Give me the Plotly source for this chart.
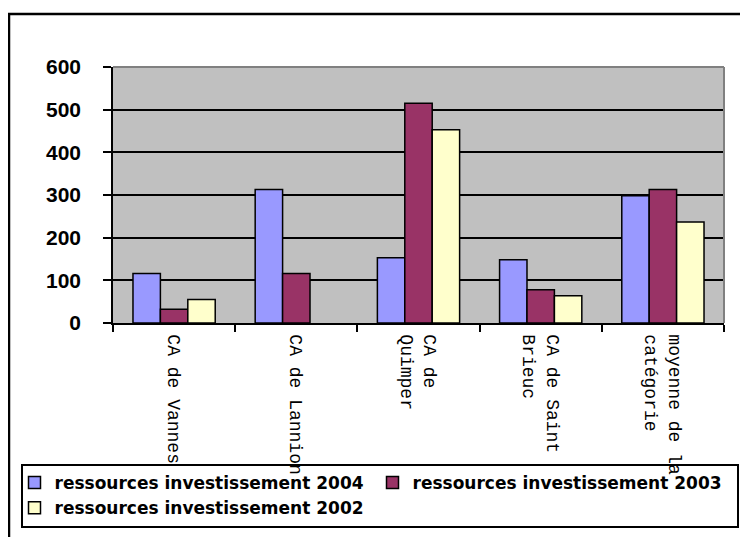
"""Excel-style grouped bar chart: ressources investissement 2002-2004."""

import plotly.graph_objects as go

# ---- data -------------------------------------------------------------
categories = [
    "CA de Vannes",
    "CA de Lannion",
    "CA de<br>Quimper",
    "CA de Saint<br>Brieuc",
    "moyenne de la<br>catégorie",
]
series_names = [
    "ressources investissement 2004",
    "ressources investissement 2003",
    "ressources investissement 2002",
]
values_2004 = [116, 313, 153, 148, 298]
values_2003 = [32, 116, 515, 78, 313]
values_2002 = [55, None, 453, 64, 237]
y_ticks = [0, 100, 200, 300, 400, 500, 600]

# ---- styling ----------------------------------------------------------
COLORS = {
    "2004": "#9999FF",
    "2003": "#993366",
    "2002": "#FFFFCC",
    "plot_bg": "#C0C0C0",
    "frame": "#808080",
}

# the page body has an 8px margin, so the figure is drawn 8px in and down
OFF = 8
W, H = 748 - OFF, 537 - OFF
M_L, M_R, M_T, M_B = 113 - OFF, 24, 67 - OFF, 214
PW, PH = W - M_L - M_R, H - M_T - M_B


def px_x(x):
    """Page pixel x -> paper x."""
    return (x - OFF - M_L) / PW


def px_y(y):
    """Page pixel y -> paper y."""
    return 1 - (y - OFF - M_T) / PH


fig = go.Figure()
for name, vals, key in zip(series_names, [values_2004, values_2003, values_2002], ["2004", "2003", "2002"]):
    fig.add_trace(
        go.Bar(
            x=categories,
            y=vals,
            name=name,
            marker=dict(color=COLORS[key], line=dict(color="black", width=1.5)),
        )
    )

fig.update_layout(
    width=W,
    height=H,
    margin=dict(l=M_L, r=M_R, t=M_T, b=M_B, autoexpand=False),
    paper_bgcolor="white",
    plot_bgcolor=COLORS["plot_bg"],
    barmode="group",
    bargap=0.327,
    bargroupgap=0,
    showlegend=True,
    legend=dict(
        orientation="h",
        x=px_x(14.5),
        xanchor="left",
        y=px_y(465),
        yanchor="top",
        entrywidth=313,
        entrywidthmode="pixels",
        bgcolor="rgba(0,0,0,0)",
        borderwidth=0,
        font=dict(family="DejaVu Sans", size=17, color="black", weight="bold"),
    ),
)

fig.update_xaxes(
    type="category",
    tickson="boundaries",
    ticks="outside",
    ticklen=7,
    tickwidth=1.5,
    tickcolor="black",
    showline=True,
    linecolor="black",
    linewidth=1.5,
    showgrid=False,
    tickangle=90,
    ticklabelstandoff=6,
    tickfont=dict(family="Liberation Mono", size=18, color="black"),
    automargin=False,
)

fig.update_yaxes(
    range=[0, 600],
    tickvals=y_ticks,
    ticks="outside",
    ticklen=8,
    tickwidth=1.5,
    tickcolor="black",
    showline=True,
    linecolor="black",
    linewidth=1.5,
    showgrid=True,
    gridcolor="black",
    gridwidth=1.5,
    zeroline=False,
    ticklabelstandoff=18,
    tickfont=dict(family="Liberation Sans, Arial", size=21, color="black", weight="bold"),
    automargin=False,
)

# gray frame on top / right of plot area
fig.add_shape(type="line", xref="paper", yref="paper", x0=0, x1=1, y0=1, y1=1,
              line=dict(color=COLORS["frame"], width=2))
fig.add_shape(type="line", xref="paper", yref="paper", x0=1, x1=1, y0=0, y1=1,
              line=dict(color=COLORS["frame"], width=2))

# outer chart border (right/bottom fall outside the page)
fig.add_shape(type="rect", xref="paper", yref="paper",
              x0=px_x(9), x1=px_x(780), y0=px_y(14), y1=px_y(580),
              line=dict(color="black", width=2.5), layer="above")

# legend box
fig.add_shape(type="rect", xref="paper", yref="paper",
              x0=px_x(22), x1=px_x(738), y0=px_y(465), y1=px_y(527),
              line=dict(color="black", width=2), layer="above")

fig.write_html("out.html")
